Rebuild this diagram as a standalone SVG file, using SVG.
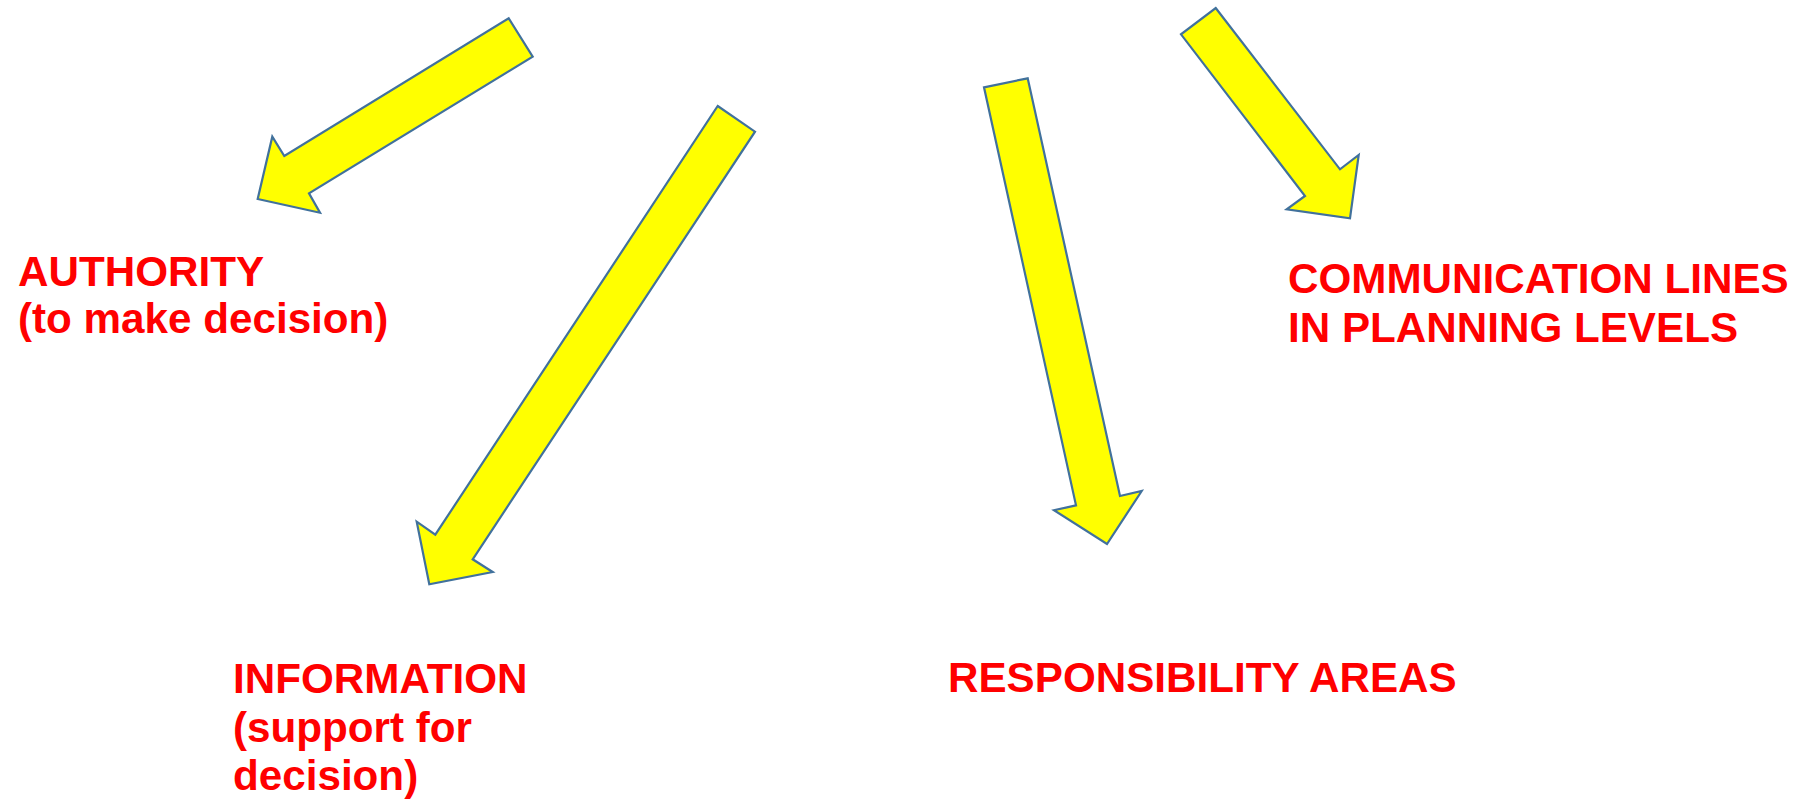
<svg xmlns="http://www.w3.org/2000/svg" width="1805" height="801" viewBox="0 0 1805 801">
<style>
.arrow{fill:#FFFF00;stroke:#41719C;stroke-width:2.2;stroke-linejoin:miter}
.lbl{font-family:"Liberation Sans",Arial,sans-serif;font-weight:bold;font-size:42.2px;fill:#FF0000}
</style>
<rect width="1805" height="801" fill="#FFFFFF"/>
<g id="connectors">
<polygon id="arrow-authority" class="arrow" points="508.7,18.3 532.7,56.7 309,193.3 320,212.7 257.7,199 272.3,136.7 284.3,156"/>
<polygon id="arrow-information" class="arrow" points="717.7,106 755,131.7 472.7,559.3 492.7,572 429.3,584.3 416.7,521.7 435.3,534.7"/>
<polygon id="arrow-responsibility" class="arrow" points="984,87.3 1027.7,78.3 1120,496 1141.7,491 1107,544 1054,510.3 1076,505.3"/>
<polygon id="arrow-communication" class="arrow" points="1215.7,8 1340,169.3 1358.7,155 1350,218.3 1286.7,209.3 1305,196 1181,34.3"/>
</g>
<g id="authority">
<text class="lbl" x="18" y="286">AUTHORITY</text>
<text class="lbl" x="18" y="333">(to make decision)</text>
</g>
<g id="information">
<text class="lbl" x="233" y="693">INFORMATION</text>
<text class="lbl" x="233" y="741.5">(support for</text>
<text class="lbl" x="233" y="790">decision)</text>
</g>
<g id="responsibility">
<text class="lbl" x="948" y="692.3">RESPONSIBILITY AREAS</text>
</g>
<g id="communication">
<text class="lbl" x="1288" y="292.7">COMMUNICATION LINES</text>
<text class="lbl" x="1288" y="342.3">IN PLANNING LEVELS</text>
</g>
</svg>
